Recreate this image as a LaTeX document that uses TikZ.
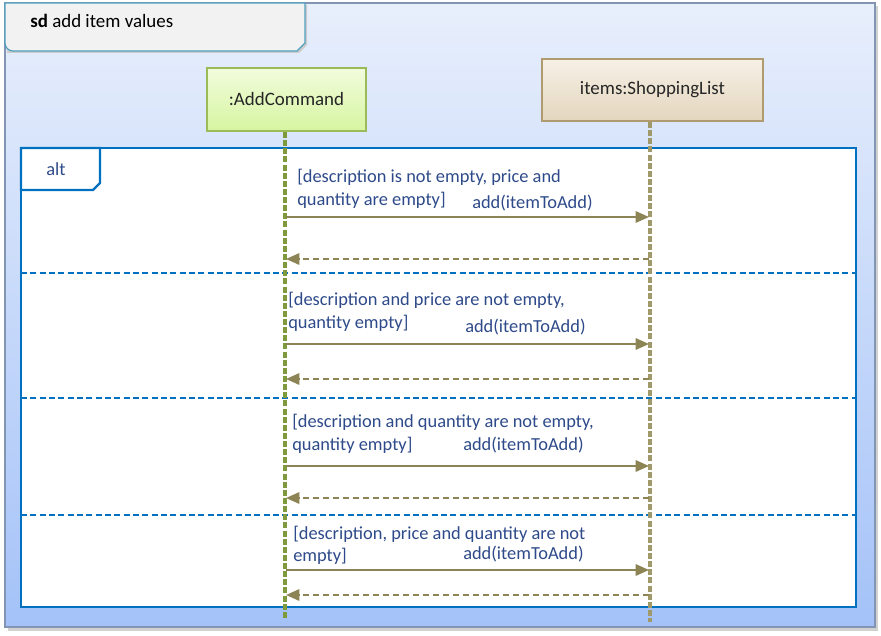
\documentclass[tikz,border=0pt]{standalone}
\usepackage{fontspec}
\setmainfont{Carlito}
\usetikzlibrary{arrows.meta}
\definecolor{txtblue}{HTML}{2E4A8A}
\definecolor{framebl}{HTML}{0070C0}
\definecolor{msgcol}{HTML}{8C8454}
\definecolor{llgreen}{HTML}{7F9A3C}
\definecolor{llkhaki}{HTML}{A09A6A}
\tikzset{
  lbl/.style={anchor=base west, inner sep=0pt, font=\fontsize{13.8}{16}\selectfont, text=txtblue},
  objbox/.style={draw, line width=1.5pt, inner sep=0pt, font=\fontsize{14.2}{17}\selectfont, text=black!85},
  lifeline/.style={line width=3pt, dash pattern=on 4.5pt off 1.6pt},
  msg/.style={draw=msgcol, line width=1.5pt, -{Triangle[length=10pt,width=8.5pt]}, color=msgcol},
  ret/.style={draw=msgcol, line width=1.5pt, dash pattern=on 4.5pt off 3pt, -{Triangle[length=10pt,width=8.5pt]}, color=msgcol},
  sep/.style={draw=framebl, line width=1.1pt, dash pattern=on 4.5pt off 2.5pt},
}
\begin{document}
\begin{tikzpicture}[x=0.75pt,y=-0.75pt]
\useasboundingbox (0,0) rectangle (881,635);
% outer frame shadow
\fill[black!18] (8,6) rectangle (878,631);
\shade[top color={rgb,255:red,232;green,239;blue,252}, bottom color={rgb,255:red,164;green,194;blue,248}, draw={rgb,255:red,130;green,150;blue,180}, line width=0.8pt] (5,3) rectangle (875,627);
% title tab
\fill[black!20] (7,5) -- (307,5) -- (307,45) -- (299,53) -- (7,53) -- cycle;
\path[fill={rgb,255:red,242;green,242;blue,242}, draw={rgb,255:red,80;green,160;blue,190}, line width=0.9pt]
  (5,3) -- (305,3) -- (305,43) -- (297,51) -- (13,51) to[out=180,in=270] (5,43) -- cycle;
\node[anchor=base west, inner sep=0pt, font=\fontsize{14.2}{17}\selectfont] (title) at (30,28) {\textbf{sd} add item values};
% objects
\node[objbox, draw={rgb,255:red,155;green,187;blue,89}, top color={rgb,255:red,242;green,252;blue,222}, bottom color={rgb,255:red,214;green,245;blue,160}, minimum width=159*0.75pt, minimum height=63*0.75pt] (ac) at (286.5,99.5) {:AddCommand};
\node[objbox, draw={rgb,255:red,176;green,154;blue,112}, top color={rgb,255:red,246;green,240;blue,230}, bottom color={rgb,255:red,228;green,214;blue,190}, minimum width=221*0.75pt, minimum height=62*0.75pt] (sl) at (652.5,90) {items:ShoppingList};
% alt frame
\draw[framebl, line width=1.6pt, fill=white] (21,148) rectangle (856,607);
\path[draw=framebl, line width=1.6pt, fill=white] (21,148) -- (100,148) -- (100,183) -- (93,190) -- (21,190) -- cycle;
\node[lbl] (alt) at (46,175) {alt};
% separators
\coordinate (s1l) at (21,273); \coordinate (s1r) at (856,273);
\coordinate (s2l) at (21,398); \coordinate (s2r) at (856,398);
\coordinate (s3l) at (21,515); \coordinate (s3r) at (856,515);
\draw[sep] (s1l) -- (s1r);
\draw[sep] (s2l) -- (s2r);
\draw[sep] (s3l) -- (s3r);
% lifelines
\coordinate (acend) at (285,618);
\coordinate (slend) at (650,622);
\draw[lifeline, draw=llgreen] (ac.south -| acend) -- (acend);
\draw[lifeline, draw=llkhaki] (sl.south -| slend) -- (slend);
% message anchor points
\foreach \n/\y in {a/217,b/344,c/466,d/570}{
  \coordinate (\n1) at (286,\y);
  \coordinate (\n2) at (649,\y);
}
\foreach \n/\y in {a/259,b/379,c/498,d/595}{
  \coordinate (r\n1) at (649,\y);
  \coordinate (r\n2) at (286,\y);
}
\draw[msg] (a1) -- (a2);
\draw[ret] (ra1) -- (ra2);
\draw[msg] (b1) -- (b2);
\draw[ret] (rb1) -- (rb2);
\draw[msg] (c1) -- (c2);
\draw[ret] (rc1) -- (rc2);
\draw[msg] (d1) -- (d2);
\draw[ret] (rd1) -- (rd2);
% labels
\node[lbl] (g1a) at (297,182) {[description is not empty, price and};
\node[lbl] (g1b) at (297,205) {quantity are empty]};
\node[lbl] (m1) at (472,208) {add(itemToAdd)};
\node[lbl] (g2a) at (288,305) {[description and price are not empty,};
\node[lbl] (g2b) at (288,328) {quantity empty]};
\node[lbl] (m2) at (465,332) {add(itemToAdd)};
\node[lbl] (g3a) at (292,427) {[description and quantity are not empty,};
\node[lbl] (g3b) at (292,450) {quantity empty]};
\node[lbl] (m3) at (463,450) {add(itemToAdd)};
\node[lbl] (g4a) at (293,539) {[description, price and quantity are not};
\node[lbl] (g4b) at (293,561) {empty]};
\node[lbl] (m4) at (463,559) {add(itemToAdd)};
\end{tikzpicture}
\end{document}
